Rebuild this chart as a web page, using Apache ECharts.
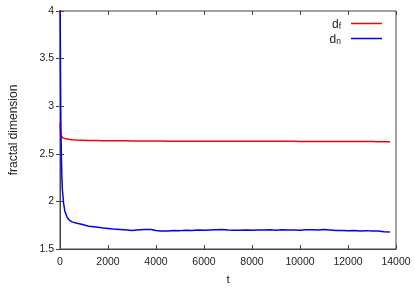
<!DOCTYPE html>
<html>
<head>
<meta charset="utf-8">
<script src="https://cdn.jsdelivr.net/npm/echarts@6/dist/echarts.min.js"></script>
<style>html,body{margin:0;padding:0;background:#fff}#c{width:415px;height:291px}</style>
</head>
<body>
<div id="c"></div>
<script>
var tValues = [0,5,10,20,30,40,60,80,100,150,200,300,400,500,700,900,1200,1500,1800,2000,2200,2500,2800,3000,3200,3500,3800,4000,4200,4500,4750,5000,5250,5500,5750,6000,6250,6500,6750,7000,7250,7500,7750,8000,8250,8500,8750,9000,9250,9500,9750,10000,10250,10500,10750,11000,11250,11500,11750,12000,12250,12500,12750,13000,13250,13500,13750];
var dnValues = [4.4,4.2,3.9,3.4,3.0,2.75,2.45,2.25,2.12,1.98,1.9,1.83,1.8,1.785,1.77,1.76,1.74,1.73,1.72,1.715,1.71,1.705,1.70,1.695,1.70,1.705,1.705,1.695,1.69,1.69,1.695,1.693,1.697,1.695,1.70,1.698,1.70,1.702,1.704,1.70,1.698,1.697,1.70,1.698,1.70,1.70,1.703,1.698,1.702,1.70,1.70,1.698,1.702,1.703,1.70,1.704,1.70,1.694,1.695,1.692,1.695,1.69,1.693,1.688,1.69,1.68,1.678];
var dfValues = [2.82,2.80,2.78,2.73,2.70,2.69,2.68,2.675,2.67,2.665,2.66,2.655,2.65,2.648,2.645,2.643,2.64,2.639,2.638,2.637,2.637,2.636,2.636,2.635,2.635,2.635,2.634,2.634,2.634,2.633,2.633,2.633,2.633,2.633,2.633,2.633,2.632,2.632,2.632,2.632,2.632,2.632,2.632,2.632,2.631,2.631,2.631,2.631,2.631,2.631,2.631,2.630,2.630,2.630,2.630,2.630,2.630,2.629,2.629,2.629,2.629,2.628,2.628,2.628,2.627,2.627,2.626];
var xTicks = {min:0, max:14000, interval:2000};
var yTicks = {min:1.5, max:4, interval:0.5};

function pairs(a){ return tValues.map(function(t,i){return [t,a[i]];}); }
var font = 'Liberation Sans, Arial, sans-serif';
var axisCol = '#444';
var chart = echarts.init(document.getElementById('c'), null, {renderer:'canvas'});
chart.setOption({
  animation:false,
  backgroundColor:'#fff',
  grid:{left:54,right:19,top:11,bottom:35,show:true,borderColor:axisCol,borderWidth:1,backgroundColor:'transparent'},
  legend:{
    orient:'vertical', align:'right', right:28, top:14, itemWidth:31, itemHeight:1.5, itemGap:3,
    icon:'rect',
    data:['df','dn'],
    formatter:function(n){return n==='df'?'{d|d}{s|f}':'{d|d}{s|n}';},
    textStyle:{fontFamily:font,color:'#222',padding:[0,5,0,0],
      rich:{d:{fontSize:12,fontFamily:font,color:'#222',verticalAlign:'bottom',lineHeight:15},s:{fontSize:8.5,fontFamily:font,color:'#222',verticalAlign:'bottom',lineHeight:11}}}
  },
  xAxis:[{
    type:'value', min:xTicks.min, max:xTicks.max, interval:xTicks.interval,
    name:'t', nameLocation:'middle', nameGap:25,
    nameTextStyle:{fontFamily:font,fontSize:11.5,color:'#222'},
    axisLine:{show:true,lineStyle:{color:axisCol}},
    axisTick:{show:true,inside:true,length:4,lineStyle:{color:axisCol}},
    axisLabel:{fontFamily:font,fontSize:10.5,color:'#222',margin:8,formatter:function(v){return String(v);}},
    splitLine:{show:false}
  },{
    type:'value', position:'top', min:xTicks.min, max:xTicks.max, interval:xTicks.interval,
    axisLine:{show:false}, axisTick:{show:true,inside:true,length:4,lineStyle:{color:axisCol}},
    axisLabel:{show:false}, splitLine:{show:false}
  }],
  yAxis:[{
    type:'value', min:yTicks.min, max:yTicks.max, interval:yTicks.interval,
    name:'fractal dimension', nameLocation:'middle', nameGap:40,
    nameTextStyle:{fontFamily:font,fontSize:12,color:'#222'},
    axisLine:{show:true,lineStyle:{color:axisCol}},
    axisTick:{show:true,inside:true,length:4,lineStyle:{color:axisCol}},
    axisLabel:{fontFamily:font,fontSize:10.5,color:'#222',margin:6},
    splitLine:{show:false}
  },{
    type:'value', position:'right', min:yTicks.min, max:yTicks.max, interval:yTicks.interval,
    axisLine:{show:false}, axisTick:{show:true,inside:true,length:4,lineStyle:{color:axisCol}},
    axisLabel:{show:false}, splitLine:{show:false}
  }],
  series:[
    {name:'df',type:'line',data:pairs(dfValues),showSymbol:false,symbol:'none',clip:true,
     lineStyle:{color:'#ff0000',width:1.5},itemStyle:{color:'#ff0000'}},
    {name:'dn',type:'line',data:pairs(dnValues),showSymbol:false,symbol:'none',clip:true,
     lineStyle:{color:'#0000ff',width:1.5},itemStyle:{color:'#0000ff'}}
  ]
});
</script>
</body>
</html>
